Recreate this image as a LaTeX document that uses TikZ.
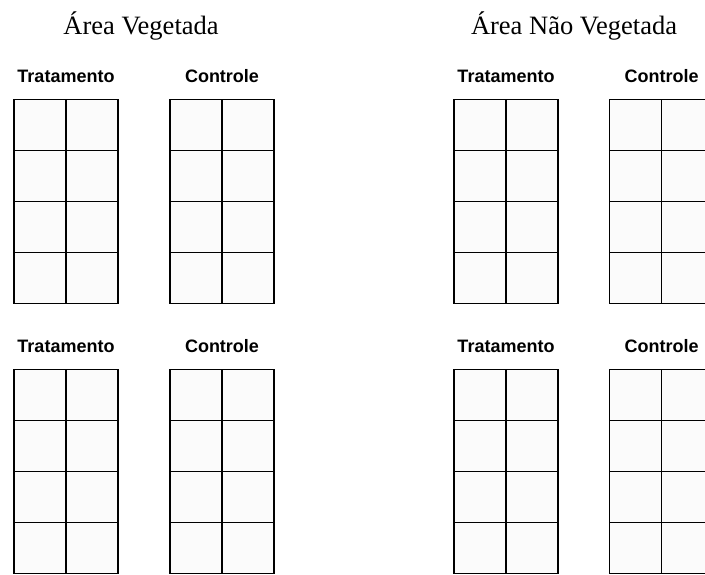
\documentclass[tikz,border=0pt]{standalone}
\usepackage{fontspec}
\setmainfont{Liberation Serif}
\newfontfamily\arialfont{Liberation Sans}
\usetikzlibrary{positioning}
\tikzset{titulo/.style={anchor=base,font=\fontsize{13.25}{15}\selectfont},
 rotulo/.style={anchor=base,inner sep=0pt,font=\arialfont\bfseries\fontsize{9}{11}\selectfont},
 celula/.style={draw=black,fill=gray!3,line width=0.8pt}}
% parcela de 2x4 celulas: nome, x esquerdo, y do topo
\newcommand{\parcela}[3]{%
 \foreach \i in {0,1}{\foreach \j in {0,...,3}{\draw[celula] (#2+\i*52,#3+\j*51) rectangle ++(52,51);}}
 \coordinate (#1) at (#2+52,#3);}

\begin{document}
\begin{tikzpicture}[x=0.5pt,y=-0.5pt]
\useasboundingbox (0,0) rectangle (705,574);
\clip (0,0) rectangle (705,574);
\node[titulo](veg) at(141,34){Área Vegetada};
\node[titulo](nveg) at(574,34){Área Não Vegetada};
\parcela{vt1}{14}{99.5}\parcela{vc1}{170}{99.5}
\parcela{nt1}{454}{99.5}\parcela{nc1}{609.5}{99.5}
\parcela{vt2}{14}{369.5}\parcela{vc2}{170}{369.5}
\parcela{nt2}{454}{369.5}\parcela{nc2}{609.5}{369.5}
\foreach \p in {vt1,nt1,vt2,nt2}{\node[rotulo] at([yshift=8.6pt]\p){Tratamento};}
\foreach \p in {vc1,nc1,vc2,nc2}{\node[rotulo] at([yshift=8.6pt]\p){Controle};}
\end{tikzpicture}
\end{document}
